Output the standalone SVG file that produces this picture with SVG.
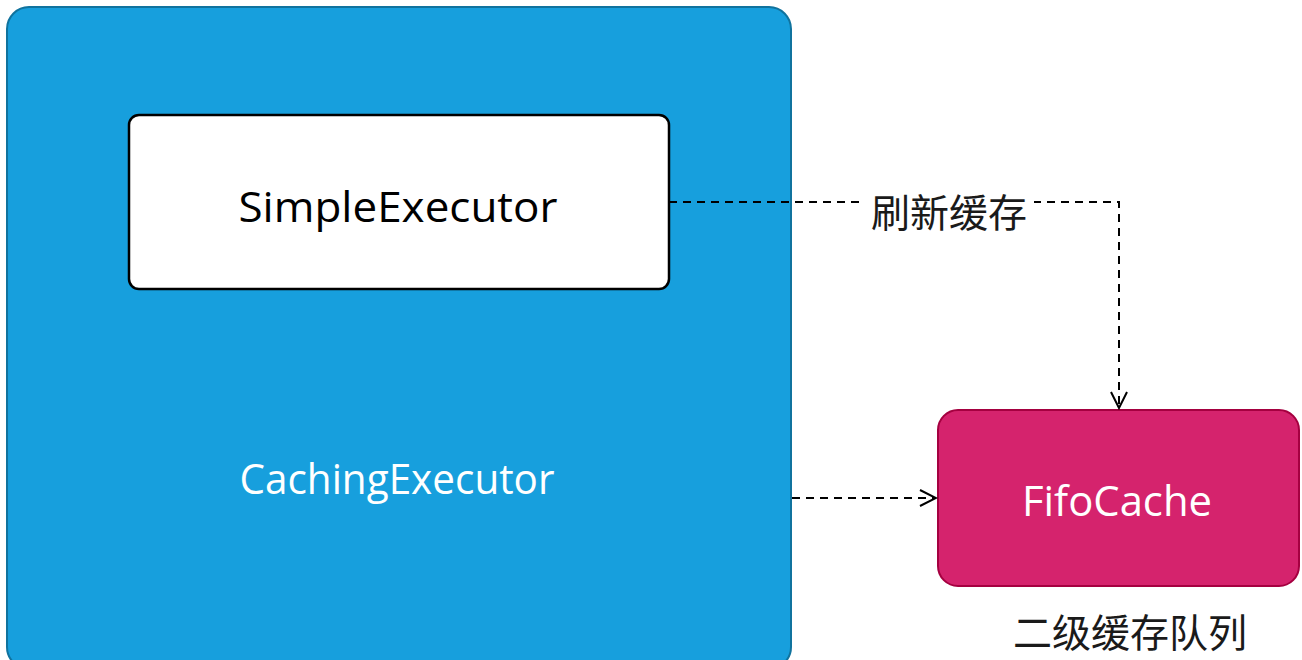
<svg xmlns="http://www.w3.org/2000/svg" width="1302" height="660" viewBox="0 0 1302 660">
<defs>
<style>
.lbl{font-family:"Open Sans","Liberation Sans",sans-serif;font-size:42px;font-weight:500;text-anchor:middle;dominant-baseline:central}
.cn{font-family:"Noto Sans CJK SC",sans-serif;font-size:39px;text-anchor:middle;dominant-baseline:central;fill:#1a1a1a}
.edge{fill:none;stroke:#000;stroke-width:2;stroke-dasharray:8 6}
</style>
<marker id="arr" viewBox="0 0 20 20" refX="18" refY="10" markerWidth="20" markerHeight="20" markerUnits="userSpaceOnUse" orient="auto">
<path d="M2,2 L18,10 L2,18" fill="none" stroke="#000" stroke-width="2"/>
</marker>
</defs>
<rect width="1302" height="660" fill="#fff"/>
<g id="caching">
<rect x="7" y="7" width="784" height="662" rx="22" fill="#179FDD" stroke="#10739E" stroke-width="2"/>
<text class="lbl" x="397" y="477" fill="#fff" textLength="315" lengthAdjust="spacingAndGlyphs">CachingExecutor</text>
</g>
<g id="simple">
<rect x="129" y="115" width="540" height="174" rx="10" fill="#fff" stroke="#000" stroke-width="2.5"/>
<text class="lbl" x="398" y="205" fill="#000" textLength="319" lengthAdjust="spacingAndGlyphs">SimpleExecutor</text>
</g>
<g id="fifo">
<rect x="938" y="410" width="361" height="176" rx="20" fill="#D5236D" stroke="#A50040" stroke-width="2"/>
<text class="lbl" x="1117" y="499" fill="#fff" textLength="190" lengthAdjust="spacingAndGlyphs">FifoCache</text>
</g>
<g id="connectors">
<path class="edge" d="M669,202 H1119 V408" marker-end="url(#arr)"/>
<path class="edge" d="M792,498 H936" marker-end="url(#arr)"/>
<rect x="864" y="188" width="170" height="44" fill="#fff"/>
<text class="cn" x="949" y="210">刷新缓存</text>
</g>
<g id="caption">
<text class="cn" x="1130" y="630">二级缓存队列</text>
</g>
</svg>
